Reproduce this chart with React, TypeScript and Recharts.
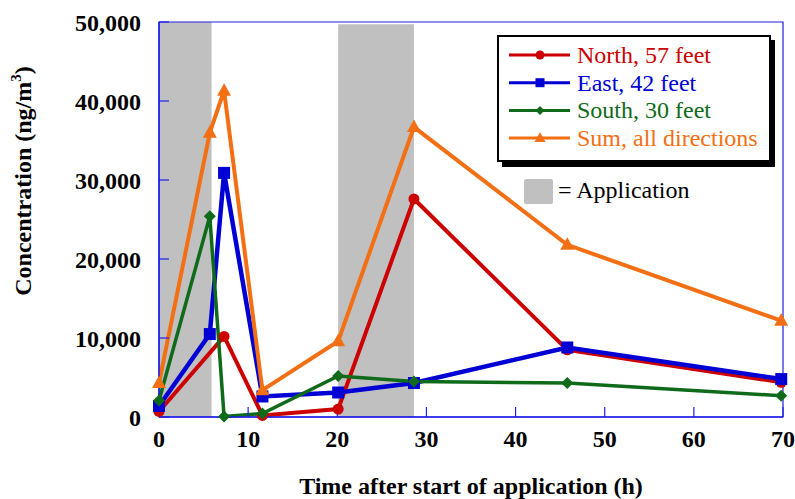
import React from 'react';
import { LineChart, Line, XAxis, YAxis, ReferenceArea, Legend, Label } from 'recharts';

// hours after start of application
const hours = [0, 5.7, 7.3, 11.6, 20.1, 28.6, 45.8, 69.8];
// concentrations, ng/m3 (north has no sample at 5.7 h)
const north = [700, null, 10200, 200, 1000, 27600, 8500, 4400];
const east = [1400, 10500, 30900, 2600, 3100, 4300, 8800, 4800];
const south = [2100, 25400, 50, 450, 5200, 4500, 4300, 2700];
const sum = [4300, 36000, 41300, 3400, 9600, 36700, 21800, 12200];

// application periods, [start, end] in hours
const applications = [
  [0, 5.9],
  [20.1, 28.6],
];

const xTicks = [0, 10, 20, 30, 40, 50, 60, 70];
const yTicks = [0, 10000, 20000, 30000, 40000, 50000];

const FONT = "'Liberation Serif', 'Times New Roman', serif";
const AXIS_BLUE = '#1f1fe6';
const GRAY = '#c0c0c0';

const series = [
  { key: 'north', name: 'North, 57 feet', color: '#cc0000', shape: 'circle', width: 4 },
  { key: 'east', name: 'East, 42 feet', color: '#0000d4', shape: 'square', width: 4.5 },
  { key: 'south', name: 'South, 30 feet', color: '#0f6a1a', shape: 'diamond', width: 3.5 },
  { key: 'sum', name: 'Sum, all directions', color: '#f26f14', shape: 'triangle', width: 4 },
];

const rows = hours.map((h, i) => ({
  hour: h,
  north: north[i],
  east: east[i],
  south: south[i],
  sum: sum[i],
}));

function Marker({ shape, color, cx, cy, size }: any) {
  const s = size;
  if (shape === 'circle') return <circle cx={cx} cy={cy} r={s * 0.5} fill={color} />;
  if (shape === 'square') return <rect x={cx - s / 2} y={cy - s / 2} width={s} height={s} fill={color} />;
  if (shape === 'diamond') {
    const d = s * 0.5;
    return <polygon points={`${cx},${cy - d} ${cx + d},${cy} ${cx},${cy + d} ${cx - d},${cy}`} fill={color} />;
  }
  const h = s * 0.9;
  return (
    <polygon
      points={`${cx},${cy - h * 0.6} ${cx + s / 2},${cy + h * 0.4} ${cx - s / 2},${cy + h * 0.4}`}
      fill={color}
    />
  );
}

const markerSize: Record<string, number> = { circle: 11, square: 12, diamond: 12, triangle: 14 };

function renderDot(shape: string, color: string) {
  return (p: any) => {
    if (p.cy == null || p.value == null) return <g key={`${shape}-${p.index}`} />;
    return (
      <g key={`${shape}-${p.index}`}>
        <Marker shape={shape} color={color} cx={p.cx} cy={p.cy} size={markerSize[shape]} />
      </g>
    );
  };
}

const legendText = { fontFamily: FONT, fontSize: 24 };

function LegendBox() {
  return (
    <svg width={300} height={185} style={{ display: 'block' }}>
      <rect x={5} y={5} width={273} height={127} fill="#000" />
      <rect x={1} y={1} width={272} height={125} fill="#fff" stroke="#000" strokeWidth={2} />
      {series.map((s, i) => {
        const y = 20 + i * 27.7;
        return (
          <g key={s.key}>
            <line x1={12} x2={73} y1={y} y2={y} stroke={s.color} strokeWidth={3} />
            <Marker shape={s.shape} color={s.color} cx={43} cy={y} size={s.shape === 'triangle' ? 11 : 9} />
            <text x={80} y={y + 8} fill={s.color} style={legendText}>
              {s.name}
            </text>
          </g>
        );
      })}
      <rect x={27} y={144} width={29} height={25} rx={2} fill={GRAY} />
      <text x={61} y={163} fill="#000" style={legendText}>
        = Application
      </text>
    </svg>
  );
}

const tickStyle = { fill: '#000', fontSize: 24, fontWeight: 'bold', fontFamily: FONT };

export default function App() {
  return (
    <div style={{ position: 'absolute', left: 0, top: 0, width: 795, height: 499, background: '#fff' }}>
      <LineChart width={795} height={499} data={rows} margin={{ top: 22, right: 12, bottom: 0, left: 0 }}>
        {applications.map(([a, b], i) => (
          <ReferenceArea
            key={i}
            x1={a}
            x2={b}
            y1={0}
            y2={i === 0 ? 50000 : 49700}
            fill={GRAY}
            fillOpacity={1}
            stroke="none"
          />
        ))}
        <ReferenceArea x1={0} x2={70} y1={0} y2={50000} fill="none" stroke={AXIS_BLUE} strokeWidth={1.2} />
        <XAxis
          dataKey="hour"
          type="number"
          domain={[0, 70]}
          ticks={xTicks}
          height={82}
          tickSize={-10}
          tickMargin={23}
          axisLine={{ stroke: AXIS_BLUE, strokeWidth: 1.5 }}
          tickLine={{ stroke: AXIS_BLUE, strokeWidth: 1.2 }}
          tick={tickStyle}
          interval={0}
        >
          <Label
            value="Time after start of application (h)"
            position="insideBottom"
            offset={5}
            fill="#000"
            fontSize={24}
            fontWeight="bold"
            fontFamily={FONT}
          />
        </XAxis>
        <YAxis
          type="number"
          domain={[0, 50000]}
          ticks={yTicks}
          width={159}
          tickSize={-10}
          tickMargin={28}
          axisLine={{ stroke: AXIS_BLUE, strokeWidth: 1.5 }}
          tickLine={{ stroke: AXIS_BLUE, strokeWidth: 1.2 }}
          tick={tickStyle}
          interval={0}
          tickFormatter={(v: number) => v.toLocaleString('en-US')}
        >
          <Label
            content={() => (
              <text
                x={31}
                y={181}
                transform="rotate(-90 31 181)"
                textAnchor="middle"
                fill="#000"
                style={{ fontFamily: FONT, fontSize: 24, fontWeight: 'bold' }}
              >
                Concentration (ng/m
                <tspan fontSize={15} dy={-10}>
                  3
                </tspan>
                <tspan dy={10}>)</tspan>
              </text>
            )}
          />
        </YAxis>
        <Legend
          layout="vertical"
          align="center"
          verticalAlign="middle"
          wrapperStyle={{ left: 497, top: 35, width: 300, height: 185 }}
          content={() => <LegendBox />}
        />
        {series.map((s) => (
          <Line
            key={s.key}
            dataKey={s.key}
            name={s.name}
            type="linear"
            stroke={s.color}
            strokeWidth={s.width}
            connectNulls
            dot={renderDot(s.shape, s.color)}
            activeDot={false}
            isAnimationActive={false}
          />
        ))}
      </LineChart>
    </div>
  );
}
